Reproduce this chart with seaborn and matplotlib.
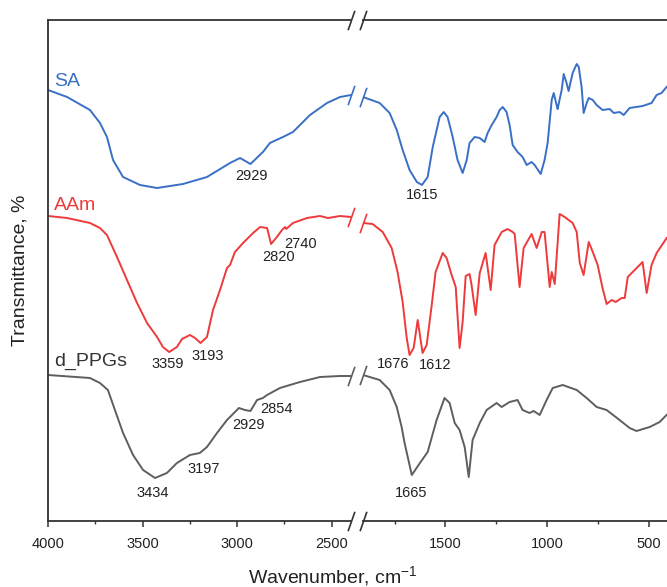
import numpy as np
import pandas as pd
import matplotlib
matplotlib.use("Agg")
import matplotlib.pyplot as plt
import seaborn as sns

# ---------------------------------------------------------------------------
# FTIR spectra: wavenumber (cm-1) and stacked transmittance (%)
# ---------------------------------------------------------------------------
sa_wn = [4000, 3899, 3778, 3725, 3688, 3656, 3603, 3513, 3423, 3286, 3159, 3037,
         2984, 2929, 2863, 2826, 2757, 2704, 2614, 2524, 2455, 2397,
         1905, 1823, 1774, 1739, 1710, 1676, 1640, 1615, 1587, 1562, 1528, 1508,
         1489, 1464, 1440, 1415, 1395, 1381, 1356, 1331, 1307, 1292, 1272, 1248,
         1233, 1218, 1199, 1184, 1169, 1145, 1120, 1100, 1076, 1061, 1031, 1012,
         997, 977, 967, 953, 948, 928, 918, 904, 894, 874, 854, 844, 830, 820,
         805, 795, 775, 756, 727, 692, 672, 643, 623, 594, 530, 486, 461, 437, 410]
sa_t = [86.2, 84.8, 82.2, 79.6, 76.8, 72.2, 68.8, 67.2, 66.6, 67.4, 68.8, 71.6,
        72.6, 71.4, 73.8, 75.6, 76.8, 77.8, 81.2, 83.6, 84.8, 85.2,
        84.8, 83.6, 81.6, 78.2, 74.2, 70.2, 67.8, 67.2, 68.8, 74.8, 80.8, 81.8,
        80.8, 76.8, 72.2, 69.6, 72.2, 75.6, 76.8, 76.6, 75.8, 77.6, 79.2, 80.8,
        82.2, 82.8, 81.8, 79.2, 75.2, 73.8, 72.8, 71.2, 71.8, 71.2, 69.4, 72.2,
        75.6, 84.2, 85.6, 83.2, 82.4, 86.2, 89.4, 87.6, 86.0, 89.6, 91.4, 90.8,
        86.8, 81.6, 83.6, 84.6, 84.2, 83.2, 82.2, 82.4, 81.6, 81.8, 81.2, 82.6,
        83.0, 83.6, 85.2, 85.6, 86.9]

aam_wn = [4000, 3899, 3778, 3725, 3688, 3635, 3582, 3529, 3476, 3423, 3392, 3359,
          3318, 3291, 3249, 3222, 3193, 3159, 3127, 3090, 3053, 3037, 3011, 2968,
          2915, 2878, 2841, 2820, 2789, 2762, 2746, 2740, 2704, 2630, 2561, 2519,
          2455, 2397,
          1905, 1858, 1808, 1764, 1735, 1710, 1690, 1676, 1656, 1636, 1612, 1592,
          1567, 1548, 1513, 1494, 1469, 1449, 1430, 1415, 1400, 1381, 1371, 1351,
          1331, 1302, 1277, 1258, 1223, 1194, 1169, 1159, 1135, 1115, 1076, 1051,
          1026, 1012, 987, 977, 962, 938, 913, 874, 854, 839, 820, 795, 775, 751,
          727, 707, 682, 662, 633, 618, 603, 569, 530, 510, 486, 461, 410]
aam_t = [61.0, 60.6, 59.6, 58.6, 57.2, 52.8, 48.2, 43.6, 39.6, 36.8, 34.8, 33.8,
         34.8, 36.4, 37.2, 36.6, 35.6, 36.8, 42.2, 46.2, 50.6, 51.2, 53.8, 55.6,
         57.6, 58.8, 58.6, 55.4, 56.8, 58.2, 58.8, 58.4, 59.6, 60.6, 61.0, 60.6,
         61.0, 60.8,
         59.6, 59.4, 57.8, 54.6, 49.8, 43.8, 36.6, 33.2, 34.6, 40.2, 33.6, 35.2,
         43.2, 49.8, 53.6, 52.6, 49.2, 46.8, 34.6, 39.8, 49.0, 49.4, 47.2, 41.2,
         49.6, 53.6, 46.2, 55.2, 57.8, 58.4, 57.8, 57.4, 46.8, 54.6, 57.4, 54.6,
         57.8, 57.8, 46.8, 49.8, 47.4, 61.4, 60.8, 59.6, 57.8, 51.6, 49.2, 55.8,
         53.8, 51.2, 46.6, 43.4, 44.2, 43.8, 44.6, 44.6, 48.8, 50.2, 51.8, 45.6,
         51.2, 53.6, 56.7]

ppg_wn = [4000, 3778, 3725, 3683, 3646, 3603, 3550, 3497, 3434, 3371, 3318, 3249,
          3197, 3159, 3106, 3053, 2990, 2958, 2929, 2894, 2863, 2841, 2773, 2667,
          2561, 2455, 2397,
          1905, 1823, 1774, 1739, 1715, 1700, 1665, 1625, 1587, 1543, 1504, 1479,
          1454, 1430, 1405, 1385, 1366, 1331, 1297, 1248, 1223, 1184, 1145, 1120,
          1086, 1066, 1036, 1002, 972, 923, 854, 805, 756, 707, 643, 594, 560,
          495, 446, 410]
ppg_t = [29.2, 28.6, 27.6, 26.2, 22.2, 17.6, 13.2, 10.2, 8.6, 9.6, 11.6, 13.2,
         13.6, 14.8, 17.6, 20.2, 22.6, 22.2, 22.0, 24.2, 24.6, 25.2, 26.6, 27.8,
         28.8, 29.0, 29.0,
         29.2, 28.2, 26.2, 22.8, 18.8, 15.5, 9.2, 11.6, 13.8, 20.2, 24.6, 23.6,
         19.6, 18.2, 14.8, 8.8, 16.2, 19.6, 22.2, 23.6, 22.8, 23.8, 24.2, 22.2,
         21.6, 22.0, 21.2, 24.2, 26.6, 27.2, 26.2, 24.6, 22.8, 22.2, 20.2, 18.6,
         18.0, 18.8, 19.8, 21.3]

series_names = ["SA", "AAm", "d_PPGs"]
series_colors = ["#3A6FC6", "#EE3A3A", "#5E5E5E"]
name_colors = ["#3A6FC6", "#EE3A3A", "#333333"]

# Peak labels: (text, x position in cm-1, y position in %)
peak_labels = [
    ("2929", 2926, 69.0), ("1615", 1612, 65.2),
    ("3359", 3365, 31.4), ("3193", 3154, 33.0), ("2820", 2778, 52.8),
    ("2740", 2662, 55.4), ("1676", 1759, 31.4), ("1612", 1548, 31.2),
    ("3434", 3445, 5.6), ("3197", 3175, 10.4), ("2929", 2937, 19.2),
    ("2854", 2789, 22.4), ("1665", 1666, 5.6),
]
name_pos = [(3968, 88.0), (3968, 63.2), (3968, 32.0)]

left_lim = (4000, 2397)
right_lim = (1905, 410)

# ---------------------------------------------------------------------------
frames = []
for name, wn, t in [("SA", sa_wn, sa_t), ("AAm", aam_wn, aam_t),
                    ("d_PPGs", ppg_wn, ppg_t)]:
    frames.append(pd.DataFrame({"wn": wn, "T": t, "sample": name}))
df = pd.concat(frames, ignore_index=True)

sns.set_theme(style="white")
plt.rcParams["font.family"] = ["Liberation Sans", "DejaVu Sans"]
plt.rcParams["mathtext.fontset"] = "custom"
plt.rcParams["mathtext.rm"] = "Liberation Sans"
plt.rcParams["mathtext.default"] = "regular"

W, H = 667, 587
fig = plt.figure(figsize=(W / 100, H / 100), dpi=100)
y0, y1 = 521, 20
ax1 = fig.add_axes([48 / W, (H - y0) / H, (351 - 48) / W, (y0 - y1) / H])
ax2 = fig.add_axes([363 / W, (H - y0) / H, (667 - 363) / W, (y0 - y1) / H])

spine_col = "#333333"
palette = dict(zip(series_names, series_colors))

for ax, lim in [(ax1, left_lim), (ax2, right_lim)]:
    lo, hi = min(lim), max(lim)
    part = df[(df["wn"] >= lo) & (df["wn"] <= hi)]
    sns.lineplot(data=part, x="wn", y="T", hue="sample", palette=palette,
                 sort=False, estimator=None, units="sample", lw=1.4,
                 legend=False, ax=ax)
    ax.set_xlim(*lim)
    ax.set_ylim(0, 100.2)
    ax.set_xlabel("")
    ax.set_ylabel("")
    ax.set_yticks([])
    for s in ax.spines.values():
        s.set_color(spine_col)
        s.set_linewidth(1.3)
    ax.tick_params(axis="x", which="major", direction="out", length=4.5,
                   width=1.1, pad=7, labelsize=10.5, colors=spine_col,
                   labelcolor="#222222", bottom=True)
    ax.tick_params(axis="x", which="minor", direction="out", length=2.5,
                   width=1.0, colors=spine_col, bottom=True)

ax1.set_xticks([4000, 3500, 3000, 2500])
ax1.set_xticks([3750, 3250, 2750], minor=True)
ax2.set_xticks([1500, 1000, 500])
ax2.set_xticks([1750, 1250, 750], minor=True)
ax1.spines["right"].set_visible(False)
ax2.spines["left"].set_visible(False)
ax2.spines["right"].set_visible(False)

# Axis-break slashes on the frame and on each spectrum
slash = [(-0.35, -1.0), (0.35, 1.0)]
for ax, xb in [(ax1, left_lim[1]), (ax2, right_lim[0])]:
    ax.plot([xb, xb], [0, 1], transform=ax.get_xaxis_transform(), ls="none",
            marker=slash, ms=14, mew=1.2, color=spine_col, clip_on=False)
for name, col in zip(series_names, series_colors):
    sub = df[df["sample"] == name]
    t_left = sub[sub["wn"] == left_lim[1]]["T"].iloc[0]
    t_right = sub[sub["wn"] == right_lim[0]]["T"].iloc[0]
    ax1.plot([left_lim[1]], [t_left], ls="none", marker=slash, ms=14, mew=1.2,
             color=col, clip_on=False)
    ax2.plot([right_lim[0]], [t_right], ls="none", marker=slash, ms=14,
             mew=1.2, color=col, clip_on=False)

# Peak annotations
for txt, x, y in peak_labels:
    ax = ax1 if x >= left_lim[1] else ax2
    ax.text(x, y, txt, ha="center", va="center", fontsize=10.5,
            color="#222222")

for name, col, (x, y) in zip(series_names, name_colors, name_pos):
    ax1.text(x, y, name, ha="left", va="center", fontsize=14, color=col)

fig.text(333 / W, 1 - 583 / H, "Wavenumber, cm$^{-1}$", ha="center",
         va="baseline", fontsize=14, color="#222222")
fig.text(20 / W, 1 - 270 / H, "Transmittance, %", ha="center", va="center",
         rotation=90, fontsize=14, color="#222222")

fig.savefig("out.png", dpi=100)
